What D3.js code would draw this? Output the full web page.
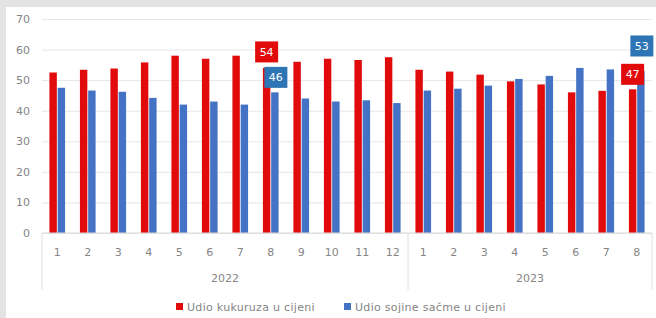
<!DOCTYPE html>
<html>
<head>
<meta charset="utf-8">
<script src="https://cdn.jsdelivr.net/npm/d3@7"></script>
<style>
  body { margin: 0; background: #e3e3e3; }
  svg { display: block; font-family: "DejaVu Sans", Verdana, sans-serif; }
</style>
</head>
<body>
<svg id="chart"></svg>
<script>
// podaci
const years = ["2022", "2023"];
const months = [
  ["1","2","3","4","5","6","7","8","9","10","11","12"],
  ["1","2","3","4","5","6","7","8"]
];
const kukuruz = [52.5, 53.4, 53.8, 55.8, 58, 57, 58, 54, 56, 57, 56.6, 57.5,
                 53.4, 52.8, 51.8, 49.6, 48.6, 46, 46.5, 47];
const soja = [47.5, 46.6, 46.2, 44.2, 42, 43, 42, 46, 44, 43, 43.4, 42.5,
              46.6, 47.2, 48.2, 50.4, 51.4, 54, 53.5, 53];
const yTicks = [0, 10, 20, 30, 40, 50, 60, 70];
const seriesNames = ["Udio kukuruza u cijeni", "Udio sojine sačme u cijeni"];
// oznake vrijednosti: [indeks kategorije, serija, pomak gore]
const valueLabels = [[7, 0, 16], [7, 1, 15], [19, 0, 15], [19, 1, 25]];

const W = 656, H = 318;
const colors = ["#e10b0b", "#4472c4"];
const labelBg = ["#e10b0b", "#2e75b6"];
const textColor = "#858585";

const svg = d3.select("#chart").attr("width", W).attr("height", H);
svg.append("rect").attr("x", 6).attr("y", 7).attr("width", W - 6).attr("height", H - 7).attr("fill", "#fff");

const margin = { left: 42, right: 4, top: 19, bottom: 85 };
const cats = [];
months.forEach((ms, yi) => ms.forEach(m => cats.push({ key: years[yi] + "-" + m, month: m, year: years[yi] })));

const x = d3.scaleBand().domain(cats.map(d => d.key)).range([margin.left, W - margin.right]);
const y = d3.scaleLinear().domain([0, 70]).range([H - margin.bottom, margin.top]);
const xs = d3.scaleBand().domain([0, 1]).range([0, x.bandwidth()]).paddingInner(0.1).paddingOuter(0.9);

// mreža
svg.append("g")
  .attr("transform", `translate(${margin.left},0)`)
  .call(d3.axisLeft(y).tickValues(yTicks).tickSize(-(W - margin.right - margin.left)).tickPadding(12))
  .call(g => g.select(".domain").remove())
  .call(g => g.selectAll(".tick line").attr("stroke", "#e6e6e6"))
  .call(g => g.selectAll(".tick text").attr("fill", textColor).attr("font-size", 11)
    .attr("font-family", "DejaVu Sans"));

// stupci
[kukuruz, soja].forEach((vals, si) => {
  svg.append("g").selectAll("rect")
    .data(vals)
    .join("rect")
    .attr("x", (d, i) => x(cats[i].key) + xs(si))
    .attr("y", d => y(d))
    .attr("width", xs.bandwidth())
    .attr("height", d => y(0) - y(d))
    .attr("fill", colors[si]);
});

// os x
const base = y(0);
svg.append("line").attr("x1", margin.left).attr("x2", W - margin.right)
  .attr("y1", base).attr("y2", base).attr("stroke", "#d9d9d9");
svg.append("g").selectAll("text")
  .data(cats)
  .join("text")
  .attr("x", d => x(d.key) + x.bandwidth() / 2)
  .attr("y", base + 23)
  .attr("text-anchor", "middle")
  .attr("font-size", 11)
  .attr("fill", textColor)
  .text(d => d.month);

let start = 0;
const bounds = [margin.left];
months.forEach((ms, yi) => {
  const x0 = x(cats[start].key);
  const x1 = x(cats[start + ms.length - 1].key) + x.bandwidth();
  bounds.push(x1);
  svg.append("text")
    .attr("x", (x0 + x1) / 2).attr("y", base + 49)
    .attr("text-anchor", "middle").attr("font-size", 11).attr("fill", textColor)
    .text(years[yi]);
  start += ms.length;
});
svg.append("g").selectAll("line")
  .data(bounds)
  .join("line")
  .attr("x1", d => d).attr("x2", d => d)
  .attr("y1", base).attr("y2", base + 57)
  .attr("stroke", "#e0e0e0");

// oznake vrijednosti
valueLabels.forEach(([ci, si, off]) => {
  const v = si === 0 ? kukuruz[ci] : soja[ci];
  const cx = x(cats[ci].key) + xs(si) + xs.bandwidth() / 2 + (si === 0 ? 0 : 1);
  const cy = y(v) - off;
  svg.append("rect")
    .attr("x", cx - 11.5).attr("y", cy - 10.5)
    .attr("width", 23).attr("height", 21)
    .attr("fill", labelBg[si]);
  svg.append("text")
    .attr("x", cx).attr("y", cy + 4)
    .attr("text-anchor", "middle").attr("font-size", 11)
    .attr("fill", "#fff")
    .text(Math.round(v));
});

// legenda
const legend = svg.append("g");
const legendX = [176, 344];
seriesNames.forEach((name, i) => {
  legend.append("rect").attr("x", legendX[i]).attr("y", 303).attr("width", 7).attr("height", 7).attr("fill", colors[i]);
  legend.append("text").attr("x", legendX[i] + 11).attr("y", 311)
    .attr("font-size", 11).attr("letter-spacing", 0.3).attr("fill", textColor).text(name);
});
</script>
</body>
</html>
